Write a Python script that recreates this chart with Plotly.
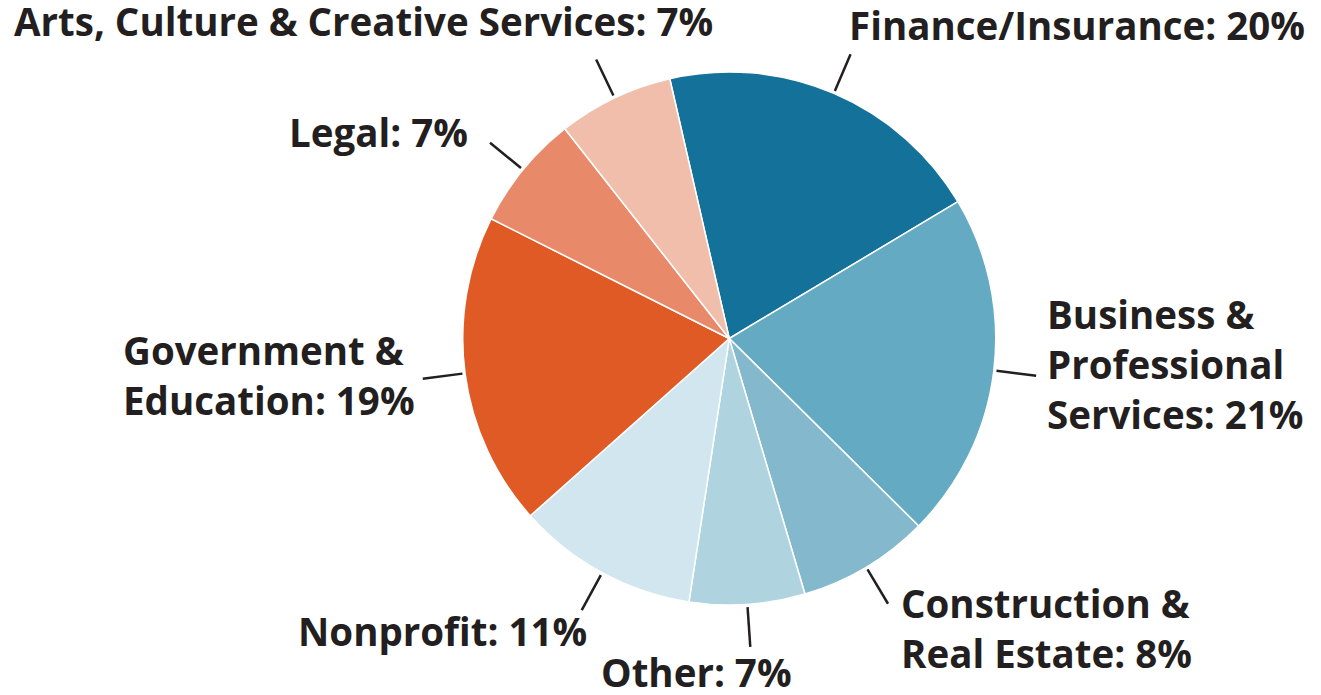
import math
import plotly.graph_objects as go

# ---- data ----
labels = ["Finance/Insurance", "Business & Professional Services", "Construction & Real Estate",
          "Other", "Nonprofit", "Government & Education", "Legal",
          "Arts, Culture & Creative Services"]
values = [20, 21, 8, 7, 11, 19, 7, 7]
label_texts = ["Finance/Insurance: 20%", "Business &<br>Professional<br>Services: 21%",
               "Construction &<br>Real Estate: 8%", "Other: 7%", "Nonprofit: 11%",
               "Government &<br>Education: 19%", "Legal: 7%",
               "Arts, Culture & Creative Services: 7%"]
colors = ["#14719A", "#64AAC2", "#84B9CD", "#AFD4E0", "#D1E6EE", "#E05A25", "#E88A69", "#F2BEAC"]

# ---- layout / style ----
W, H = 1321, 695
ROT = -12.9
dom_x = [0.3503, 0.7538]
dom_y = [90 / H, 1 - 72 / H]
TEXT_COLOR = "#231F20"
FONT = "Open Sans"
FSIZE = 38.5

# label anchoring relative to the outer end of each leader line (pixels)
label_style = [
    dict(xanchor="left", dx=-4, dy=-29, align="left"),
    dict(xanchor="left", dx=9, dy=-12, align="left"),
    dict(xanchor="left", dx=11, dy=24, align="left"),
    dict(xanchor="center", dx=-54, dy=25, align="center"),
    dict(xanchor="right", dx=7, dy=21, align="right"),
    dict(xanchor="right", dx=-6, dy=-4, align="left"),
    dict(xanchor="right", dx=-20, dy=-11, align="right"),
    dict(xanchor="right", dx=119, dy=-38, align="right"),
]

fig = go.Figure(go.Pie(
    labels=labels, values=values, sort=False, direction="clockwise", rotation=ROT,
    marker=dict(colors=colors, line=dict(color="white", width=1.5)),
    textinfo="none", hoverinfo="label+percent", showlegend=False,
    domain=dict(x=dom_x, y=dom_y),
))

cx = 0.5 * (dom_x[0] + dom_x[1]) * W
cy = (1 - 0.5 * (dom_y[0] + dom_y[1])) * H
R = min((dom_x[1] - dom_x[0]) * W, (dom_y[1] - dom_y[0]) * H) / 2

total = sum(values)
cum = 0
shapes, annotations = [], []
for i, v in enumerate(values):
    mid = math.radians(ROT + (cum + v / 2) / total * 360)
    cum += v
    r0, r1 = R * 1.01, R * 1.16
    x0, y0 = cx + r0 * math.sin(mid), cy - r0 * math.cos(mid)
    x1, y1 = cx + r1 * math.sin(mid), cy - r1 * math.cos(mid)
    shapes.append(dict(type="line", xref="paper", yref="paper",
                       x0=x0 / W, y0=1 - y0 / H, x1=x1 / W, y1=1 - y1 / H,
                       line=dict(color=TEXT_COLOR, width=2.5)))
    st = label_style[i]
    annotations.append(dict(
        xref="paper", yref="paper", x=(x1 + st["dx"]) / W, y=1 - (y1 + st["dy"]) / H,
        xanchor=st["xanchor"], yanchor="middle", align=st["align"],
        text=label_texts[i], showarrow=False,
        font=dict(family=FONT, size=FSIZE, color=TEXT_COLOR, weight="bold"),
    ))

fig.update_layout(
    width=W, height=H, margin=dict(l=0, r=0, t=0, b=0),
    paper_bgcolor="white", plot_bgcolor="white",
    shapes=shapes, annotations=annotations,
)
fig.write_html("out.html", config={"displayModeBar": False},
               post_script="document.body.style.margin='0';")
